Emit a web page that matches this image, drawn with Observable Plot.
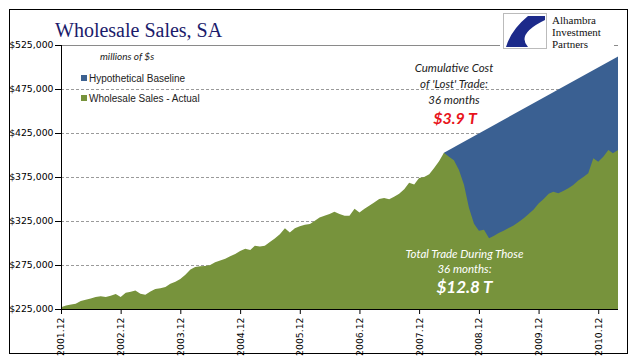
<!DOCTYPE html>
<html><head><meta charset="utf-8">
<script src="https://cdn.jsdelivr.net/npm/d3@7"></script>
<script src="https://cdn.jsdelivr.net/npm/@observablehq/plot@0.6"></script>
<style>
html,body{margin:0;padding:0;background:#fff;}
#wrap{position:relative;width:641px;height:358px;overflow:hidden;background:#fff;}
#chart{position:absolute;left:0;top:0;}
#over{position:absolute;left:0;top:0;}
</style></head><body>
<div id="wrap">
<div id="chart"></div>
<svg id="over" width="641" height="358" xmlns="http://www.w3.org/2000/svg">
  <rect x="9.5" y="9.5" width="618" height="344" fill="none" stroke="#000" stroke-width="1"/>
  <text x="55" y="36.5" font-family="Liberation Serif" font-size="20" fill="#1b1b6b">Wholesale Sales, SA</text>
  <text x="100" y="60" font-family="Lato" font-style="italic" font-size="10" fill="#222">millions of $s</text>
  <rect x="81" y="75" width="6" height="6" fill="#3d6190"/>
  <text x="89" y="81.5" font-family="Liberation Sans" font-size="10" fill="#222">Hypothetical Baseline</text>
  <rect x="81" y="95" width="6" height="6" fill="#77933c"/>
  <text x="89" y="101.5" font-family="Liberation Sans" font-size="10" fill="#222">Wholesale Sales - Actual</text>
  <rect x="500" y="11" width="114" height="40" fill="#fff"/>
  <rect x="503.5" y="13.5" width="43" height="35" fill="#fff" stroke="#bbb" stroke-width="1"/>
  <path d="M545,16 L528,16 Q511,30 506,47 L528,47 Q516,34 545,20 Z" fill="#1c2a8a"/>
  <text x="552" y="24" font-family="Liberation Serif" font-size="11" fill="#111">Alhambra</text>
  <text x="552" y="36" font-family="Liberation Serif" font-size="11" fill="#111">Investment</text>
  <text x="552" y="48" font-family="Liberation Serif" font-size="11" fill="#111">Partners</text>
  <g font-family="Lato" font-style="italic" text-anchor="middle">
    <text x="454" y="72" font-size="11.5" fill="#222">Cumulative Cost</text>
    <text x="454" y="88" font-size="11.5" fill="#222">of 'Lost' Trade:</text>
    <text x="454" y="104" font-size="11.5" fill="#222">36 months</text>
    <text x="455" y="124" font-size="16" font-weight="bold" fill="#e8141b">$3.9 T</text>
    <text x="464.5" y="258" font-size="11.5" fill="#fff">Total Trade During Those</text>
    <text x="464.5" y="273" font-size="11.5" fill="#fff">36 months:</text>
    <text x="464.5" y="293" font-size="17" font-weight="bold" fill="#fff">$12.8 T</text>
  </g>
</svg>
</div>
<script>
// ---- data (millions of $) ----
const startMonth = "2001-12";
const actualValues = [
  227000, 229000, 230000, 231000, 234000, 235500, 237000, 238500, 239500, 238500,
  240000, 242000, 238500, 243500, 244500, 246000, 242300, 241200, 245000, 247700,
  248500, 250000, 253700, 256000, 259000, 264000, 270000, 272600, 273500, 274000,
  275000, 278000, 280000, 282000, 285000, 287500, 291000, 293500, 292000, 297000,
  296000, 297000, 301000, 305000, 310000, 316800, 311800, 316800, 319000, 320600,
  321700, 325000, 329000, 331000, 333000, 335400, 333000, 330900, 331000, 339000,
  334600, 339000, 342500, 346000, 350000, 351000, 349600, 352500, 356000, 361000,
  368500, 366600, 374000, 375000, 378000, 385000, 393000, 402500, 398000, 394000,
  383000, 366000, 340000, 322000, 314000, 315000, 305500, 308000, 311500, 314000,
  317000, 320000, 324000, 328000, 333000, 338000, 345000, 350000, 356000, 358300,
  356500, 359000, 362200, 366000, 371000, 375000, 379200, 396200, 392400, 398000,
  405600, 401900, 405600
];
const baselineMonths = ["2008-05", "2011-04"];
const baselineValues = [402500, 512000];
const yTicks = [225000, 275000, 325000, 375000, 425000, 475000, 525000];
const gridTicks = [275000, 325000, 375000, 425000, 475000];
const xTickLabels = ["2001.12","2002.12","2003.12","2004.12","2005.12","2006.12","2007.12","2008.12","2009.12","2010.12"];

const parseM = d3.utcParse("%Y-%m");
const start = parseM(startMonth);
const actual = actualValues.map((v, i) => ({date: d3.utcMonth.offset(start, i), value: v}));
const end = actual[actual.length - 1].date;
const baseline = baselineMonths.map((m, i) => ({date: parseM(m), value: baselineValues[i]}));
const xTicks = xTickLabels.map(s => d3.utcParse("%Y.%m")(s));

const chart = Plot.plot({
  width: 641, height: 358,
  marginLeft: 61, marginRight: 23, marginTop: 45, marginBottom: 49,
  style: {fontFamily: "DejaVu Sans", fontSize: "9.3px", color: "#000", background: "transparent", overflow: "visible"},
  x: {type: "utc", domain: [start, end]},
  y: {domain: [225000, 525000]},
  marks: [
    Plot.ruleY(gridTicks, {stroke: "#9a9a9a", strokeDasharray: "3,2", strokeWidth: 1}),
    Plot.ruleY([525000], {stroke: "#8a8a8a", strokeWidth: 1}),
    Plot.areaY(baseline, {x: "date", y1: 225000, y2: "value", fill: "#3a6092"}),
    Plot.areaY(actual, {x: "date", y1: 225000, y2: "value", fill: "#77933c"}),
    Plot.ruleY([225000], {stroke: "#000", strokeWidth: 1}),
    Plot.ruleX([start], {stroke: "#000", strokeWidth: 1}),
    Plot.axisY({ticks: yTicks, tickFormat: d3.format("$,"), tickSize: 6, tickPadding: 2, label: null}),
    Plot.axisX({ticks: xTicks, tickFormat: d3.utcFormat("%Y.%m"), tickRotate: -90, tickSize: 5, tickPadding: 3, label: null})
  ]
});
document.getElementById("chart").appendChild(chart);
</script>
</body></html>
